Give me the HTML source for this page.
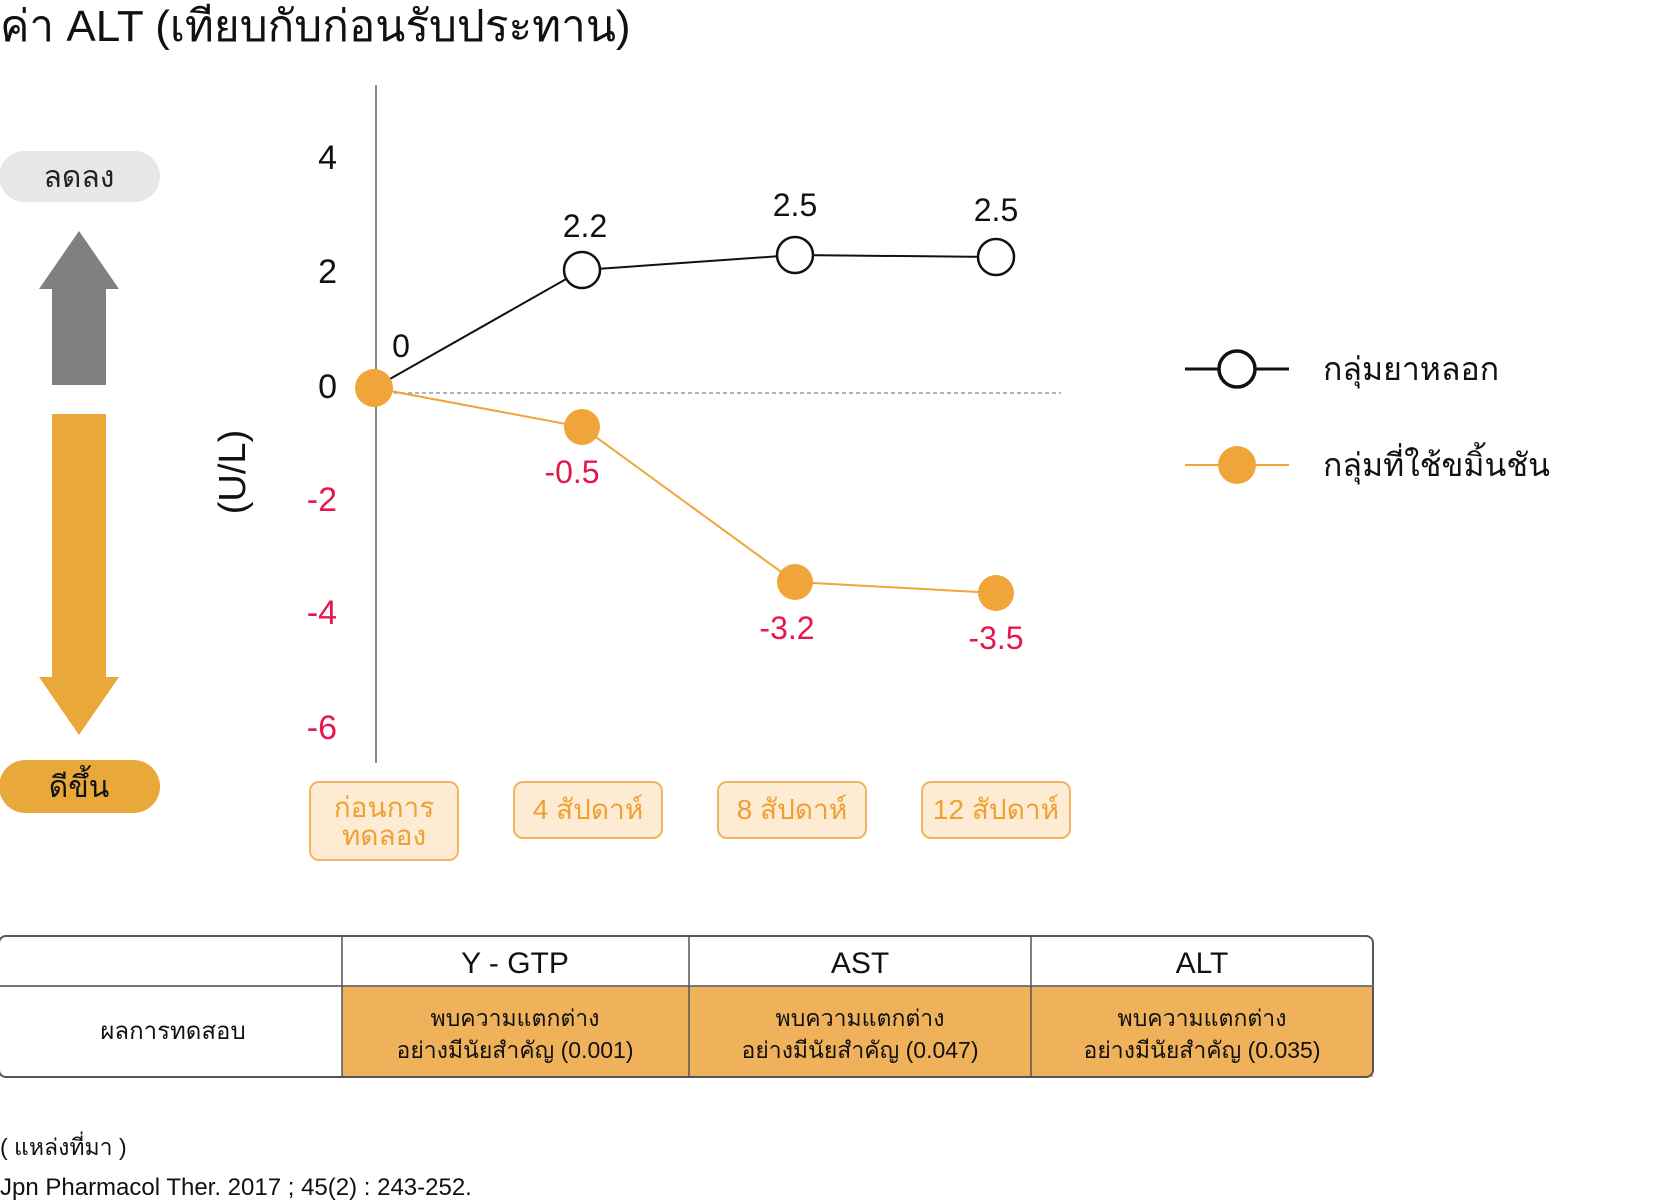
<!DOCTYPE html>
<html><head><meta charset="utf-8"><style>
html,body{margin:0;padding:0;background:#fff;width:1659px;height:1200px;overflow:hidden}
svg{display:block}
text{font-family:"Liberation Sans","Noto Sans CJK SC",sans-serif}
</style></head><body>
<svg width="1659" height="1200" viewBox="0 0 1659 1200" xmlns="http://www.w3.org/2000/svg">
<g transform="translate(-3,-3)">
<text x="3" y="44" font-size="44" fill="#111">ค่า ALT (เทียบกับก่อนรับประทาน)</text>

<rect x="2" y="154" width="161" height="51" rx="25.5" fill="#e6e7e8"/>
<text x="82" y="190" font-size="30" text-anchor="middle" fill="#222">ลดลง</text>
<polygon points="82,234 122,292 109,292 109,388 55,388 55,292 42,292" fill="#808080"/>
<polygon points="55,417 109,417 109,680 122,680 82,738 42,680 55,680" fill="#e9a83a"/>
<rect x="2" y="763" width="161" height="53" rx="26.5" fill="#e9a83a"/>
<text x="82" y="800" font-size="30" text-anchor="middle" fill="#111">ดีขึ้น</text>

<line x1="379" y1="88" x2="379" y2="766" stroke="#888" stroke-width="2"/>
<line x1="390" y1="396" x2="1064" y2="396" stroke="#999" stroke-width="1.5" stroke-dasharray="4,3"/>
<g font-size="34" text-anchor="end">
<text x="340" y="172" fill="#111">4</text>
<text x="340" y="286" fill="#111">2</text>
<text x="340" y="401" fill="#111">0</text>
<text x="340" y="514" fill="#e8174b">-2</text>
<text x="340" y="627" fill="#e8174b">-4</text>
<text x="340" y="742" fill="#e8174b">-6</text>
</g>
<text transform="translate(248,475) rotate(-90)" font-size="38" text-anchor="middle" fill="#111">(U/L)</text>

<polyline points="377,391 585,273 798,258 999,260" fill="none" stroke="#111" stroke-width="2"/>
<polyline points="377,391 585,430 798,585 999,596" fill="none" stroke="#f0a53a" stroke-width="2"/>
<g fill="#fff" stroke="#111" stroke-width="2.5">
<circle cx="585" cy="273" r="18"/><circle cx="798" cy="258" r="18"/><circle cx="999" cy="260" r="18"/>
</g>
<g fill="#f0a53a">
<circle cx="377" cy="391" r="19"/><circle cx="585" cy="430" r="18"/><circle cx="798" cy="585" r="18"/><circle cx="999" cy="596" r="18"/>
</g>
<g font-size="32" text-anchor="middle">
<text x="404" y="360" fill="#111">0</text>
<text x="588" y="240" fill="#111">2.2</text>
<text x="798" y="219" fill="#111">2.5</text>
<text x="999" y="224" fill="#111">2.5</text>
<text x="575" y="486" fill="#e8174b">-0.5</text>
<text x="790" y="642" fill="#e8174b">-3.2</text>
<text x="999" y="652" fill="#e8174b">-3.5</text>
</g>

<g fill="#fdebd3" stroke="#f4b35e" stroke-width="2">
<rect x="313" y="785" width="148" height="78" rx="9"/>
<rect x="517" y="785" width="148" height="56" rx="9"/>
<rect x="721" y="785" width="148" height="56" rx="9"/>
<rect x="925" y="785" width="148" height="56" rx="9"/>
</g>
<g font-size="28" text-anchor="middle" fill="#f0a030">
<text x="387" y="820">ก่อนการ</text>
<text x="387" y="848">ทดลอง</text>
<text x="591" y="822">4 สัปดาห์</text>
<text x="795" y="822">8 สัปดาห์</text>
<text x="999" y="822">12 สัปดาห์</text>
</g>

<line x1="1188" y1="372" x2="1292" y2="372" stroke="#111" stroke-width="3"/>
<circle cx="1240" cy="372" r="18" fill="#fff" stroke="#111" stroke-width="3.5"/>
<text x="1326" y="383" font-size="32" fill="#111">กลุ่มยาหลอก</text>
<line x1="1188" y1="468" x2="1292" y2="468" stroke="#f0a53a" stroke-width="2"/>
<circle cx="1240" cy="468" r="19" fill="#f0a53a"/>
<text x="1326" y="479" font-size="32" fill="#111">กลุ่มที่ใช้ขมิ้นชัน</text>

<rect x="345" y="989" width="1031" height="91" fill="#efb25a"/>
<rect x="2" y="939" width="1374" height="141" rx="7" fill="none" stroke="#555" stroke-width="2"/>
<line x1="2" y1="989" x2="1376" y2="989" stroke="#777" stroke-width="2"/>
<line x1="345" y1="939" x2="345" y2="1080" stroke="#555" stroke-width="1.5"/>
<line x1="692" y1="939" x2="692" y2="1080" stroke="#555" stroke-width="1.5"/>
<line x1="1034" y1="939" x2="1034" y2="1080" stroke="#555" stroke-width="1.5"/>
<g font-size="30" text-anchor="middle" fill="#111">
<text x="518" y="976">Y - GTP</text>
<text x="863" y="976">AST</text>
<text x="1205" y="976">ALT</text>
</g>
<text x="176" y="1042" font-size="24" text-anchor="middle" fill="#111">ผลการทดสอบ</text>
<g font-size="23" text-anchor="middle" fill="#111">
<text x="518" y="1029">พบความแตกต่าง</text>
<text x="518" y="1061">อย่างมีนัยสำคัญ (0.001)</text>
<text x="863" y="1029">พบความแตกต่าง</text>
<text x="863" y="1061">อย่างมีนัยสำคัญ (0.047)</text>
<text x="1205" y="1029">พบความแตกต่าง</text>
<text x="1205" y="1061">อย่างมีนัยสำคัญ (0.035)</text>
</g>

<text x="3" y="1158" font-size="23" fill="#111">( แหล่งที่มา )</text>
<text x="3" y="1198" font-size="24" fill="#111">Jpn Pharmacol Ther. 2017 ; 45(2) : 243-252.</text>
</g>
</svg>
</body></html>
